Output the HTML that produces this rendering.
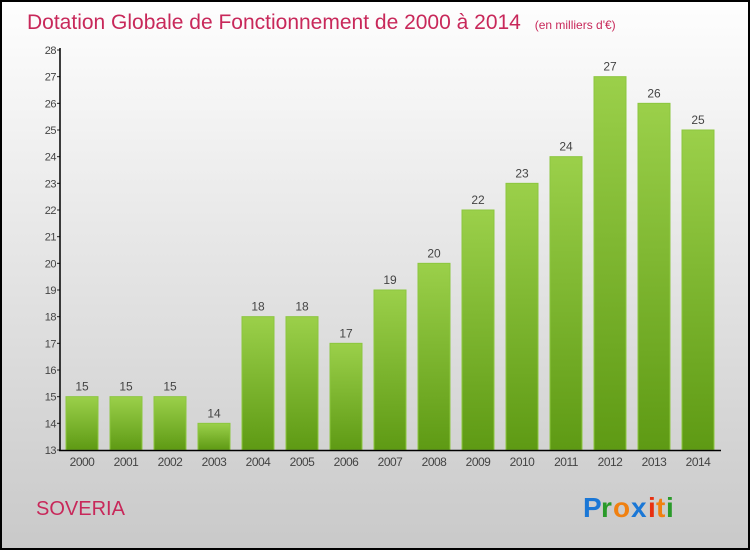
<!DOCTYPE html>
<html><head><meta charset="utf-8"><style>
body{margin:0;width:750px;height:550px;overflow:hidden}
svg{display:block}
text{font-family:"Liberation Sans",sans-serif}
</style></head><body>
<svg id="c" width="750" height="550" xmlns="http://www.w3.org/2000/svg">
<defs>
<linearGradient id="bg" x1="0" y1="0" x2="0" y2="1"><stop offset="0" stop-color="#fefefe"/><stop offset="1" stop-color="#c9c9c9"/></linearGradient>
<linearGradient id="bar" x1="0" y1="0" x2="0" y2="1"><stop offset="0" stop-color="#9bd04a"/><stop offset="1" stop-color="#5e9a14"/></linearGradient>
</defs>
<rect x="1" y="1" width="748" height="548" fill="url(#bg)" stroke="#000" stroke-width="2"/>
<text x="27" y="29" font-size="21" fill="#c8285a">Dotation Globale de Fonctionnement de 2000 à 2014 <tspan font-size="12" dx="8">(en milliers d'€)</tspan></text>
<text x="36" y="515" font-size="20" fill="#c8285a">SOVERIA</text>
<g font-size="28" font-weight="bold" font-family="Liberation Sans">
<text x="583" y="517" fill="#1a77d6">P</text><text x="601" y="517" fill="#2a9a2a">r</text><text x="613" y="517" fill="#f08010">o</text><text x="631" y="517" fill="#1a77d6">x</text><text x="648" y="517" fill="#e83010">i</text><text x="656" y="517" fill="#f08010">t</text><text x="666" y="517" fill="#2a9a2a">i</text>
</g>
<g id="plot"></g>
</svg>
<script>
const categories=["2000","2001","2002","2003","2004","2005","2006","2007","2008","2009","2010","2011","2012","2013","2014"];
const values=[15,15,15,14,18,18,17,19,20,22,23,24,27,26,25];
const yTicks=[13,14,15,16,17,18,19,20,21,22,23,24,25,26,27,28];
const NS="http://www.w3.org/2000/svg";
const g=document.getElementById('plot');
const yMin=13,yMax=28,yTop=50,yBot=450;
const y=v=>yBot-(v-yMin)/(yMax-yMin)*(yBot-yTop);
const x=i=>82+i*44;
function el(t,a){const e=document.createElementNS(NS,t);for(const k in a)e.setAttribute(k,a[k]);g.appendChild(e);return e;}
yTicks.forEach(t=>{
 const l=el('line',{x1:57,x2:60,y1:y(t),y2:y(t),stroke:'#222'});
 
 
 const tx=el('text',{x:56,y:y(t)+4,'font-size':11,'text-anchor':'end',fill:'#444','letter-spacing':'-0.5'});
 tx.textContent=t;
 
 
});
values.forEach((v,i)=>{
 const r=el('rect',{x:x(i)-16,y:y(v),width:32,height:yBot-y(v),fill:'url(#bar)',stroke:'#8cc63f','stroke-width':1});
 
 
 const vl=el('text',{x:x(i),y:y(v)-6,'font-size':12,'text-anchor':'middle',fill:'#444'});
 vl.textContent=v;
 
 
 const cl=el('text',{x:x(i),y:466,'font-size':12,'text-anchor':'middle',fill:'#444','letter-spacing':'-0.5'});
 cl.textContent=categories[i];
 
 
});
const ya=el('line',{x1:60,x2:60,y1:48,y2:451,stroke:'#000','stroke-width':1.5});


const xa=el('line',{x1:59,x2:721,y1:450.5,y2:450.5,stroke:'#000','stroke-width':1.5});


</script>
</body></html>
